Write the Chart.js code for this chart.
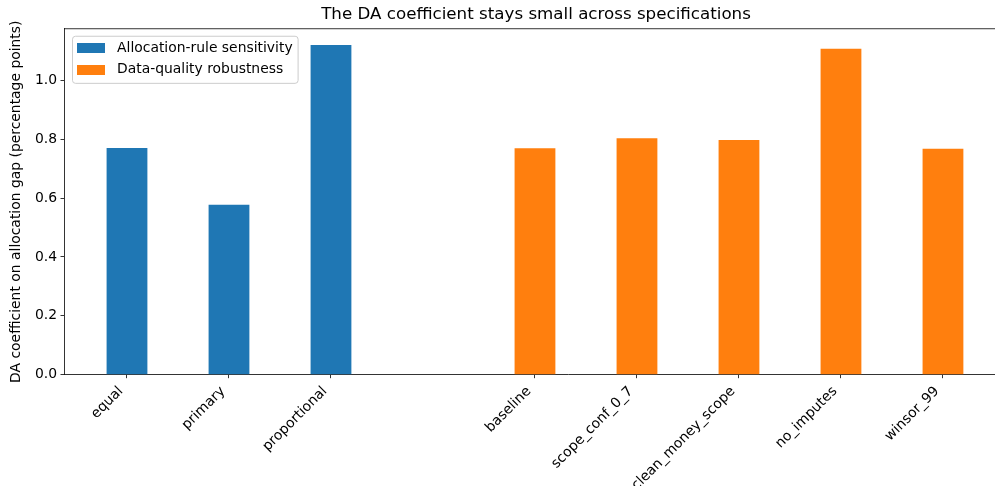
<!DOCTYPE html>
<html>
<head>
<meta charset="utf-8">
<script src="https://cdn.jsdelivr.net/npm/chart.js@4/dist/chart.umd.min.js"></script>
<style>
  html, body { margin: 0; padding: 0; background: #fff; overflow: hidden; width: 995px; height: 486px; }
  #wrap { position: relative; width: 1072px; height: 486px; }
  canvas { display: block; width: 1072px; height: 486px; }
</style>
</head>
<body>
<div id="wrap"><canvas id="c" width="1072" height="486"></canvas></div>
<script>
// Allocation-rule variants of the DA coefficient
const allocationRules = ['equal', 'primary', 'proportional'];
const allocationCoef = [0.770, 0.577, 1.120];

// Data-quality robustness checks
const qualityChecks = ['baseline', 'scope_conf_0_7', 'clean_money_scope', 'no_imputes', 'winsor_99'];
const qualityCoef = [0.769, 0.803, 0.797, 1.107, 0.767];

const yTickValues = [0, 0.2, 0.4, 0.6, 0.8, 1.0];
const seriesNames = ['Allocation-rule sensitivity', 'Data-quality robustness'];
const seriesColors = ['#1f77b4', '#ff7f0e'];
const chartTitle = 'The DA coefficient stays small across specifications';
const yAxisTitle = 'DA coefficient on allocation gap (percentage points)';

// Slots: the allocation rules, one empty slot, then the data-quality checks
const qualityStart = allocationRules.length + 1;
const slotLabels = {};
allocationRules.forEach((name, i) => { slotLabels[i] = name; });
qualityChecks.forEach((name, i) => { slotLabels[qualityStart + i] = name; });
const slotPositions = Object.keys(slotLabels).map(Number);

const FONT = 'DejaVu Sans';
const tickFont = { family: FONT, size: 13.9 };

// Legend swatch: a 28x10 filled patch used as the legend point style
function makeSwatch(color) {
  const c = document.createElement('canvas');
  c.width = 28; c.height = 10;
  const g = c.getContext('2d');
  g.fillStyle = color;
  g.fillRect(0, 0, 28, 10);
  return c;
}
const swatches = seriesColors.map(makeSwatch);

// Legend sits inside the plot, top-left, with a light rounded frame
const legendPlacement = {
  id: 'legendPlacement',
  afterLayout(chart) {
    const lg = chart.legend, ca = chart.chartArea;
    lg.left = ca.left;
    lg.top = ca.top + 4.3;
    lg.right = lg.left + lg.width;
    lg.bottom = lg.top + lg.height;
  },
  beforeDraw(chart) {
    const hb = chart.legend && chart.legend.legendHitBoxes;
    if (!hb || !hb.length) return;
    const left = Math.min(...hb.map(h => h.left));
    const right = Math.max(...hb.map(h => h.left + h.width)) + 5;
    const top = hb[0].top - 5.3;
    const last = hb[hb.length - 1];
    const bottom = last.top + last.height + 6;
    const ctx = chart.ctx;
    ctx.save();
    ctx.beginPath();
    ctx.roundRect(left + 0.5, top + 0.5, right - left, bottom - top, 3);
    ctx.fillStyle = 'rgba(255,255,255,0.8)';
    ctx.fill();
    ctx.strokeStyle = '#cccccc';
    ctx.lineWidth = 1;
    ctx.stroke();
    ctx.restore();
  }
};

// Top spine of the axes frame
const topSpine = {
  id: 'topSpine',
  afterDraw(chart) {
    const { ctx, chartArea: ca } = chart;
    ctx.save();
    ctx.strokeStyle = '#000';
    ctx.lineWidth = 0.8;
    ctx.beginPath();
    ctx.moveTo(ca.left, ca.top);
    ctx.lineTo(ca.right, ca.top);
    ctx.stroke();
    ctx.restore();
  }
};

new Chart(document.getElementById('c'), {
  type: 'bar',
  data: {
    datasets: [
      {
        label: seriesNames[0],
        data: allocationCoef.map((v, i) => ({ x: i, y: v })),
        backgroundColor: seriesColors[0],
        borderWidth: 0
      },
      {
        label: seriesNames[1],
        data: qualityCoef.map((v, i) => ({ x: qualityStart + i, y: v })),
        backgroundColor: seriesColors[1],
        borderWidth: 0
      }
    ]
  },
  options: {
    responsive: false,
    devicePixelRatio: 1,
    animation: false,
    grouped: false,
    barPercentage: 0.4,
    categoryPercentage: 1.0,
    layout: { padding: 0 },
    plugins: {
      tooltip: { enabled: false },
      title: {
        display: true,
        text: chartTitle,
        color: '#000',
        font: { family: FONT, size: 16.7, weight: 'normal' },
        padding: { top: 5, bottom: 3.7 }
      },
      legend: {
        position: 'chartArea',
        align: 'start',
        labels: {
          usePointStyle: true,
          pointStyleWidth: 38.1,
          boxHeight: 10,
          padding: 8,
          color: '#000',
          font: tickFont,
          generateLabels(chart) {
            const items = Chart.defaults.plugins.legend.labels.generateLabels(chart);
            items.forEach(item => { item.pointStyle = swatches[item.datasetIndex]; });
            return items;
          }
        }
      }
    },
    scales: {
      x: {
        type: 'linear',
        offset: false,
        min: -0.6176,
        max: 9.265,
        afterBuildTicks: s => { s.ticks = slotPositions.map(v => ({ value: v })); },
        afterFit: s => { s.height = 111.3; },
        ticks: {
          autoSkip: false,
          minRotation: 45,
          maxRotation: 45,
          padding: 5,
          labelOffset: -6,
          color: '#000',
          font: tickFont,
          callback: v => slotLabels[v]
        },
        grid: { offset: false, drawOnChartArea: false, tickLength: 3.5, color: '#000', lineWidth: 0.8 },
        border: { color: '#000', width: 0.8 }
      },
      y: {
        min: 0,
        max: 1.175,
        afterBuildTicks: s => { s.ticks = yTickValues.map(v => ({ value: v })); },
        afterFit: s => { s.width = 64; },
        ticks: {
          padding: 3.5,
          color: '#000',
          font: tickFont,
          callback: v => v.toFixed(1)
        },
        grid: { drawOnChartArea: false, tickLength: 3.5, color: '#000', lineWidth: 0.8 },
        border: { color: '#000', width: 0.8 },
        title: {
          display: true,
          text: yAxisTitle,
          color: '#000',
          font: tickFont,
          padding: { top: 8.2, bottom: 0 }
        }
      }
    }
  },
  plugins: [legendPlacement, topSpine]
});
</script>
</body>
</html>
